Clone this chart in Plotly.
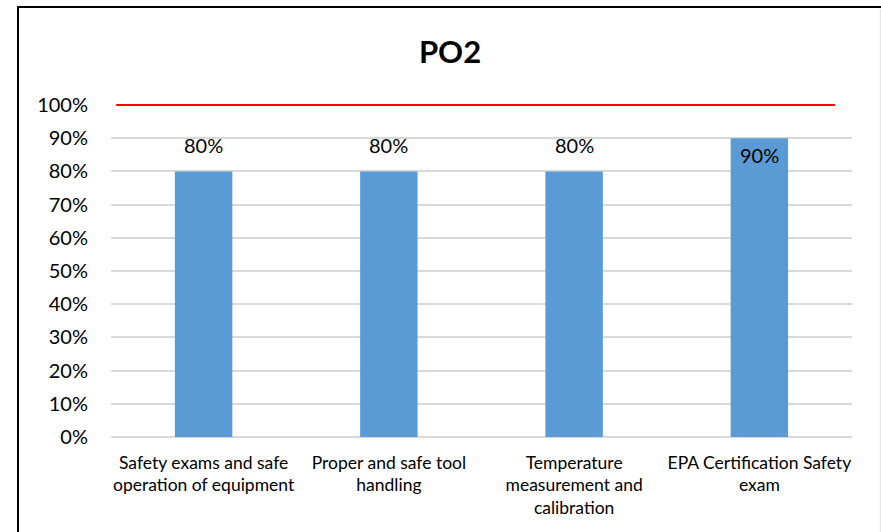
import plotly.graph_objects as go

# Chart data
categories = [
    "Safety exams and safe<br>operation of equipment",
    "Proper and safe tool<br>handling",
    "Temperature<br>measurement and<br>calibration",
    "EPA Certification Safety<br>exam",
]
scores = [0.80, 0.80, 0.80, 0.90]
target = 1.00
y_max = 1.00
y_ticks = [0.0, 0.1, 0.2, 0.3, 0.4, 0.5, 0.6, 0.7, 0.8, 0.9, 1.0]
y_tick_labels = [f"{round(t * 100)}%" for t in y_ticks]

FONT = "Lato, 'Open Sans', sans-serif"
BAR_COLOR = "#5B9BD5"
GRID_COLOR = "#D9D9D9"

fig = go.Figure()
fig.add_trace(go.Bar(
    x=categories,
    y=scores,
    marker=dict(color=BAR_COLOR, line=dict(width=0)),
    hoverinfo="x+y",
))

# Value labels: above the bar, or tucked inside when the top is near the target line
for cat, val in zip(categories, scores):
    inside = val > 0.85
    fig.add_annotation(
        x=cat, y=val, xref="x", yref="y",
        text=f"{round(val * 100)}%",
        showarrow=False,
        yanchor="top" if inside else "bottom",
        yshift=-3 if inside else 12,
        font=dict(family=FONT, size=20, color="#000000"),
    )

# Target line (paper-referenced so it is not clipped at the plot edge)
fig.add_shape(
    type="line", xref="paper", yref="paper",
    x0=0.007, x1=0.977, y0=target / y_max, y1=target / y_max,
    line=dict(color="#FF0000", width=2.2),
    layer="above",
)

# Chart frame
fig.add_shape(
    type="rect", xref="paper", yref="paper",
    x0=-0.1255, x1=1.08, y0=-0.35, y1=1.295,
    line=dict(color="#000000", width=2),
    layer="below",
)
fig.add_shape(
    type="line", xref="paper", yref="paper",
    x0=1.0385, x1=1.0385, y0=-0.35, y1=1.29,
    line=dict(color="#E6E6E6", width=1.5),
    layer="below",
)

fig.update_layout(
    width=881, height=532,
    margin=dict(l=111, r=29, t=105, b=95),
    paper_bgcolor="white",
    plot_bgcolor="white",
    showlegend=False,
    bargap=0.69,
    title=dict(
        text="<b>PO2</b>",
        x=450 / 881, xanchor="center",
        y=1 - 52 / 532, yanchor="middle",
        font=dict(family=FONT, size=31, color="#000000"),
    ),
    font=dict(family=FONT, color="#000000"),
    xaxis=dict(
        showgrid=False,
        showline=False,
        ticks="",
        tickfont=dict(family=FONT, size=17.5, color="#000000"),
        ticklabelstandoff=13,
    ),
    yaxis=dict(
        range=[0, y_max],
        tickvals=y_ticks,
        ticktext=y_tick_labels,
        showgrid=True,
        gridcolor=GRID_COLOR,
        gridwidth=1.5,
        zeroline=True,
        zerolinecolor=GRID_COLOR,
        zerolinewidth=1.5,
        showline=False,
        ticks="",
        tickfont=dict(family=FONT, size=20, color="#000000"),
        ticklabelstandoff=22,
    ),
)

fig.write_html("out.html")
